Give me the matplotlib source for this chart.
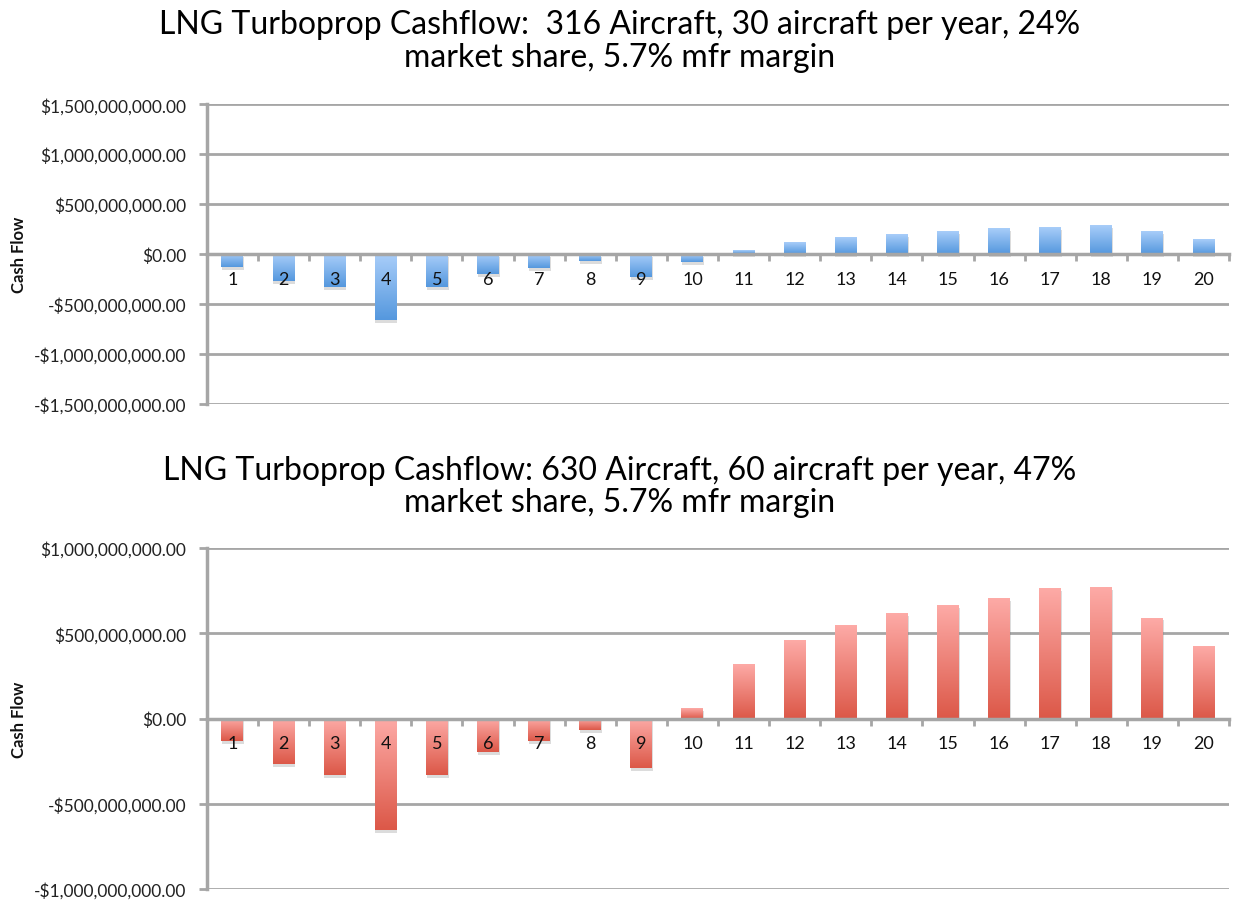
import matplotlib.pyplot as plt
import matplotlib.patheffects as pe
from matplotlib.ticker import FuncFormatter, MultipleLocator, FixedLocator
import numpy as np

plt.rcParams['font.family'] = ['Lato', 'DejaVu Sans']

years = list(range(1, 21))

# cash flow per year, chart 1 (316 aircraft) and chart 2 (630 aircraft)
cash_316 = [-133e6, -267e6, -327e6, -657e6, -327e6, -197e6, -137e6, -67e6, -227e6, -77e6,
            40e6, 120e6, 170e6, 200e6, 230e6, 260e6, 270e6, 290e6, 230e6, 150e6]
cash_630 = [-131e6, -267e6, -331e6, -655e6, -331e6, -196e6, -131e6, -67e6, -290e6, 61e6,
            321e6, 463e6, 551e6, 616e6, 663e6, 705e6, 764e6, 770e6, 592e6, 427e6]

title_316 = "LNG Turboprop Cashflow:  316 Aircraft, 30 aircraft per year, 24%\nmarket share, 5.7% mfr margin"
title_630 = "LNG Turboprop Cashflow: 630 Aircraft, 60 aircraft per year, 47%\nmarket share, 5.7% mfr margin"


def money(v, pos):
    if v < 0:
        return '-${:,.2f}'.format(-v)
    return '${:,.2f}'.format(v)


def gradient_bars(ax, values, c_top, c_bot):
    bars = ax.bar(years, values, width=0.43, color=c_bot, zorder=1,
                  path_effects=[pe.SimplePatchShadow(offset=(0.5, -2), shadow_rgbFace='#777777', alpha=0.25),
                                pe.Normal()])
    t = np.array(plt.matplotlib.colors.to_rgb(c_top))
    b = np.array(plt.matplotlib.colors.to_rgb(c_bot))
    for r in bars:
        x, y, w, h = r.get_x(), r.get_y(), r.get_width(), r.get_height()
        y0, y1 = min(y, y + h), max(y, y + h)
        f = np.linspace(0, 1, 64)[:, None, None]
        img = t + (b - t) * f
        ax.imshow(img, extent=[x, x + w, y0, y1], aspect='auto', origin='upper',
                  zorder=1.1, interpolation='bilinear')


def style(ax, lim):
    ax.set_xlim(0.5, 20.5)
    ax.set_ylim(-lim, lim)
    ax.yaxis.set_major_locator(MultipleLocator(5e8))
    ax.yaxis.set_major_formatter(FuncFormatter(money))
    for yv in np.arange(-lim, lim + 1, 5e8):
        ax.axhline(yv, color='#a6a6a6', lw=2, zorder=0)
    for s in ['top', 'right']:
        ax.spines[s].set_visible(False)
    ax.spines['left'].set_color('#a6a6a6')
    ax.spines['left'].set_linewidth(2.5)
    ax.spines['bottom'].set_position(('data', 0))
    ax.spines['bottom'].set_color('#a6a6a6')
    ax.spines['bottom'].set_linewidth(2.5)
    ax.xaxis.set_major_locator(FixedLocator(np.arange(0.5, 21, 1)))
    ax.xaxis.set_major_formatter(FuncFormatter(lambda v, p: ''))
    ax.xaxis.set_minor_locator(FixedLocator(years))
    ax.xaxis.set_minor_formatter(FuncFormatter(lambda v, p: str(int(round(v)))))
    ax.tick_params(axis='x', which='major', length=5, width=2, color='#a6a6a6')
    ax.tick_params(axis='x', which='minor', length=0, pad=12, labelsize=13, labelcolor='#111111')
    ax.tick_params(axis='y', length=6, width=2, color='#a6a6a6', labelsize=12.5, labelcolor='#222222', pad=9)
    ax.set_ylabel('Cash Flow', fontsize=12, fontweight='bold', color='#111111')
    ax.yaxis.set_label_coords(-0.176, 0.5)


fig = plt.figure(figsize=(12.39, 9.03), dpi=100)

ax1 = fig.add_axes([0.167, 0.5515, 0.825, 0.332])
gradient_bars(ax1, cash_316, '#a8cdf9', '#5598de')
style(ax1, 1.5e9)

ax2 = fig.add_axes([0.167, 0.0144, 0.825, 0.3776])
gradient_bars(ax2, cash_630, '#fdaaa6', '#dc5848')
style(ax2, 1.0e9)

fig.text(0.5, 0.954, title_316, ha='center', va='center', fontsize=23, linespacing=1.1)
fig.text(0.5, 0.461, title_630, ha='center', va='center', fontsize=23, linespacing=1.1)

fig.savefig('out.png', dpi=100)
